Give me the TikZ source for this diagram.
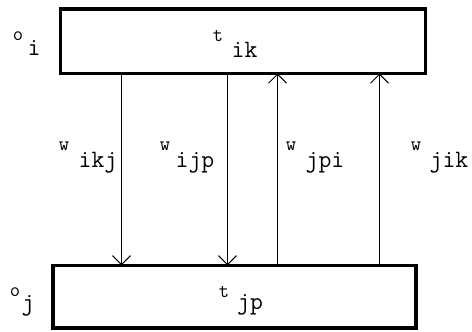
\documentclass[tikz,border=0pt]{standalone}
\usepackage{fontspec}
\usetikzlibrary{arrows.meta}
\begin{document}
\begin{tikzpicture}[x=1bp,y=-1bp,
  taskbox/.style={draw, line width=3.5bp, rectangle, inner sep=0pt, outer sep=0pt},
  msg/.style={line width=1bp, -{Straight Barb[length=9bp,width=18bp,line width=1bp]}},
  sym/.style={inner sep=0pt, anchor=base, font=\ttfamily\fontsize{20bp}{20bp}\selectfont},
  idx/.style={inner sep=0pt, anchor=base, font=\ttfamily\fontsize{25bp}{25bp}\selectfont}]
  \useasboundingbox (0,0) rectangle (472,331);

  % the two task boxes
  \node[taskbox, minimum width=364.8bp, minimum height=64.5bp] (ti) at (242.9,41.25) {};
  \node[taskbox, minimum width=363bp, minimum height=62.7bp] (tj) at (234.5,296.65) {};

  % box and processor labels
  \node[sym] (tsym1) at (218,41.5) {t};
  \node[idx] (tidx1) at (244.5,57.5) {ik};
  \node[sym] (tsym2) at (224,297) {t};
  \node[idx] (tidx2) at (250,309.5) {jp};
  \node[sym] (osym1) at (18,40) {o};
  \node[idx] (oidx1) at (34,55) {i};
  \node[sym] (osym2) at (15,296) {o};
  \node[idx] (oidx2) at (28,310) {j};

  % message columns
  \coordinate (c1) at (121.5,0);
  \coordinate (c2) at (227.5,0);
  \coordinate (c3) at (277.5,0);
  \coordinate (c4) at (379.5,0);

  \draw[msg] (ti.south -| c1) -- (tj.north -| c1);
  \draw[msg] (ti.south -| c2) -- (tj.north -| c2);
  \draw[msg] (tj.north -| c3) -- (ti.south -| c3);
  \draw[msg] (tj.north -| c4) -- (ti.south -| c4);

  % message weights
  \node[sym] (wsym1) at (64,150) {w};
  \node[idx] (widx1) at (98,167) {ikj};
  \node[sym] (wsym2) at (165,150) {w};
  \node[idx] (widx2) at (195,167) {ijp};
  \node[sym] (wsym3) at (291,150) {w};
  \node[idx] (widx3) at (325,167) {jpi};
  \node[sym] (wsym4) at (416,150) {w};
  \node[idx] (widx4) at (449,167) {jik};
\end{tikzpicture}
\end{document}
